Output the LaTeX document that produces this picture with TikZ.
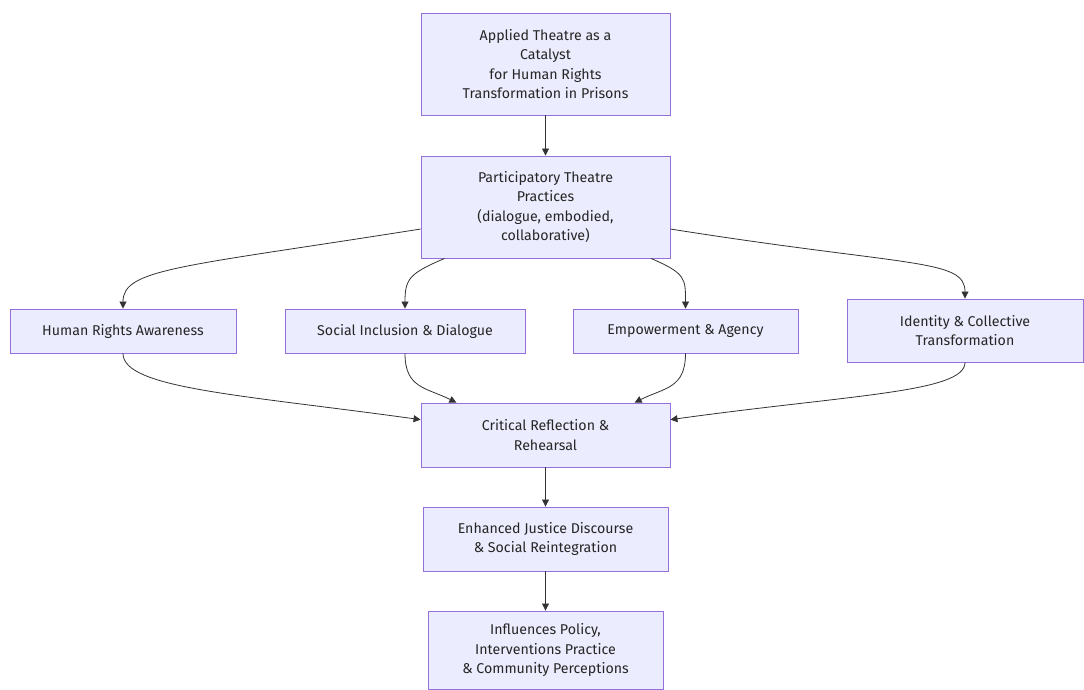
\documentclass[tikz,border=0pt]{standalone}
\usepackage{fontspec}
\setmainfont{Fira Sans}
\usepackage{tikz}
\usetikzlibrary{arrows.meta,shapes}
\definecolor{boxfill}{HTML}{ECECFF}
\definecolor{boxline}{HTML}{9370DB}
\definecolor{linkcol}{HTML}{333333}
\tikzstyle{stage}=[rectangle,draw=boxline,fill=boxfill,line width=0.9pt,align=center,inner sep=0pt,font=\fontsize{14.2}{19.5}\selectfont,text=black!85]
\tikzstyle{link} = [draw,line width=0.8pt,linkcol,-{Triangle[length=7pt,width=7pt]}]

\begin{document}
\begin{tikzpicture}[x=1pt,y=-1pt]
    \useasboundingbox[fill=white] (0,0) rectangle (1084,690);

    % stages: position / name / width / height / text
    \foreach \pos/ \name/ \w/ \h/ \txt in {
        {(545.5,64)/A/249/102/{Applied Theatre as a\\Catalyst\\for Human Rights\\Transformation in Prisons}},
        {(545.5,207)/P/249/102/{Participatory Theatre\\Practices\\(dialogue, embodied,\\collaborative)}},
        {(123,331)/HR/226/44/{Human Rights Awareness}},
        {(405,331)/SI/240/44/{Social Inclusion \& Dialogue}},
        {(685.5,331)/EA/225/44/{Empowerment \& Agency}},
        {(965,330.5)/ID/236/63/{Identity \& Collective\\Transformation}},
        {(545.5,435)/CR/249/64/{Critical Reflection \&\\Rehearsal}},
        {(545.5,539)/EJ/245/64/{Enhanced Justice Discourse\\\& Social Reintegration}},
        {(545.5,650)/IP/235/78/{Influences Policy,\\Interventions Practice\\\& Community Perceptions}}}
        \node[stage,minimum width=\w pt,minimum height=\h pt] (\name) at \pos {\txt};

    % straight links down the middle
    \foreach \source/ \dest in {A/P, CR/EJ, EJ/IP}
        \path[link] (\source) -- (\dest);

    % fan out from the practices
    \path[link] (P.190) .. controls +(-240,38) and +(0,-40) .. (HR.north);
    \path[link] (P.207) .. controls +(-35,15) and +(0,-30) .. (SI.north);
    \path[link] (P.334) .. controls +(35,15) and +(0,-30) .. (EA.north);
    \path[link] (P.350) .. controls +(240,38) and +(0,-40) .. (ID.north);

    % gather into reflection
    \path[link] (HR.south) .. controls +(0,35) and +(-180,-25) .. (CR.173);
    \path[link] (SI.south) .. controls +(0,35) and +(-30,-15) .. (CR.160);
    \path[link] (EA.south) .. controls +(0,35) and +(30,-15) .. (CR.20);
    \path[link] (ID.south) .. controls +(0,30) and +(180,-25) .. (CR.7);

\end{tikzpicture}
\end{document}
